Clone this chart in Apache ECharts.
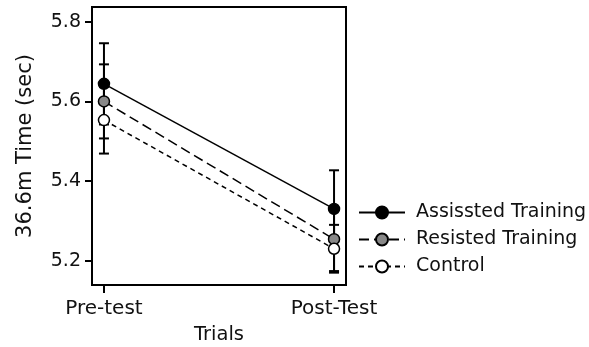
<!DOCTYPE html>
<html>
<head>
<meta charset="utf-8">
<script src="https://cdn.jsdelivr.net/npm/echarts@6/dist/echarts.min.js"></script>
<style>
  html, body { margin: 0; padding: 0; background: #fff; }
  #chart { width: 589px; height: 347px; }
</style>
</head>
<body>
<div id="chart"></div>
<script>
// trials on the x axis (0 = pre, 1 = post)
var trials = ['Pre-test', 'Post-Test'];
var trialPos = [0, 1];
var yTicks = [5.2, 5.4, 5.6, 5.8];

// means and error bar half-widths
var assisted = [5.644, 5.330];
var assistedErr = [0.102, 0.097];
var resisted = [5.600, 5.254];
var resistedErr = [0.093, 0.080];
var control = [5.553, 5.230];
var controlErr = [0.084, 0.060];

var font = 'DejaVu Sans';

function pts(vals) {
  return vals.map(function (v, i) { return [trialPos[i], v]; });
}
function errPts(vals, errs) {
  return vals.map(function (v, i) { return [trialPos[i], v - errs[i], v + errs[i]]; });
}

function renderErr(params, api) {
  var x = api.value(0);
  var lo = api.coord([x, api.value(1)]);
  var hi = api.coord([x, api.value(2)]);
  var w = 5;
  var st = { stroke: '#000', lineWidth: 2 };
  return {
    type: 'group',
    children: [
      { type: 'line', shape: { x1: lo[0], y1: lo[1], x2: hi[0], y2: hi[1] }, style: st },
      { type: 'line', shape: { x1: lo[0] - w, y1: lo[1], x2: lo[0] + w, y2: lo[1] }, style: st },
      { type: 'line', shape: { x1: hi[0] - w, y1: hi[1], x2: hi[0] + w, y2: hi[1] }, style: st }
    ]
  };
}

var chart = echarts.init(document.getElementById('chart'));

var option = {
  backgroundColor: '#fff',
  animation: false,
  grid: {
    left: 92, right: 243, top: 7, bottom: 62,
    outerBoundsMode: 'none',
    show: true, borderColor: '#000', borderWidth: 2
  },
  legend: {
    orient: 'vertical',
    left: 353,
    top: 198,
    itemWidth: 46,
    itemHeight: 15,
    itemGap: 8,
    textStyle: { fontFamily: font, fontSize: 19, color: '#111', padding: [0, 0, 0, 6] },
    data: ['Assissted Training', 'Resisted Training', 'Control']
  },
  xAxis: {
    type: 'value',
    min: -0.052,
    max: 1.052,
    name: 'Trials',
    nameLocation: 'middle',
    nameGap: 40,
    nameTextStyle: { fontFamily: font, fontSize: 19.5, color: '#111' },
    splitLine: { show: false },
    axisLine: { onZero: false, lineStyle: { color: '#000', width: 2 } },
    axisTick: { customValues: trialPos, length: 8, lineStyle: { color: '#000', width: 2 } },
    axisLabel: {
      customValues: trialPos,
      margin: 14,
      fontFamily: font, fontSize: 20, color: '#111',
      formatter: function (v) { return trials[Math.round(v)]; }
    }
  },
  yAxis: {
    type: 'value',
    min: 5.139,
    max: 5.837,
    name: '36.6m Time (sec)',
    nameLocation: 'middle',
    nameGap: 56,
    nameTextStyle: { fontFamily: font, fontSize: 21, color: '#111' },
    splitLine: { show: false },
    axisLine: { onZero: false, lineStyle: { color: '#000', width: 2 } },
    axisTick: { customValues: yTicks, length: 7, lineStyle: { color: '#000', width: 2 } },
    axisLabel: {
      customValues: yTicks,
      margin: 11,
      fontFamily: font, fontSize: 19, color: '#111',
      formatter: function (v) { return v.toFixed(1); }
    }
  },
  series: [
    {
      name: 'errA', type: 'custom', renderItem: renderErr, z: 1,
      data: errPts(assisted, assistedErr), silent: true
    },
    {
      name: 'errR', type: 'custom', renderItem: renderErr, z: 1,
      data: errPts(resisted, resistedErr), silent: true
    },
    {
      name: 'errC', type: 'custom', renderItem: renderErr, z: 1,
      data: errPts(control, controlErr), silent: true
    },
    {
      name: 'Assissted Training', type: 'line', z: 3,
      data: pts(assisted),
      symbol: 'circle', symbolSize: 11,
      lineStyle: { color: '#000', width: 1.5, type: 'solid' },
      itemStyle: { color: '#000', borderColor: '#000', borderWidth: 1.5 }
    },
    {
      name: 'Resisted Training', type: 'line', z: 3,
      data: pts(resisted),
      symbol: 'circle', symbolSize: 11,
      lineStyle: { color: '#000', width: 1.5, type: [10, 5] },
      itemStyle: { color: '#888', borderColor: '#000', borderWidth: 1.5 }
    },
    {
      name: 'Control', type: 'line', z: 3,
      data: pts(control),
      symbol: 'circle', symbolSize: 11,
      lineStyle: { color: '#000', width: 1.5, type: [5, 4] },
      itemStyle: { color: '#fff', borderColor: '#000', borderWidth: 1.5 }
    }
  ]
};

chart.setOption(option);
</script>
</body>
</html>
